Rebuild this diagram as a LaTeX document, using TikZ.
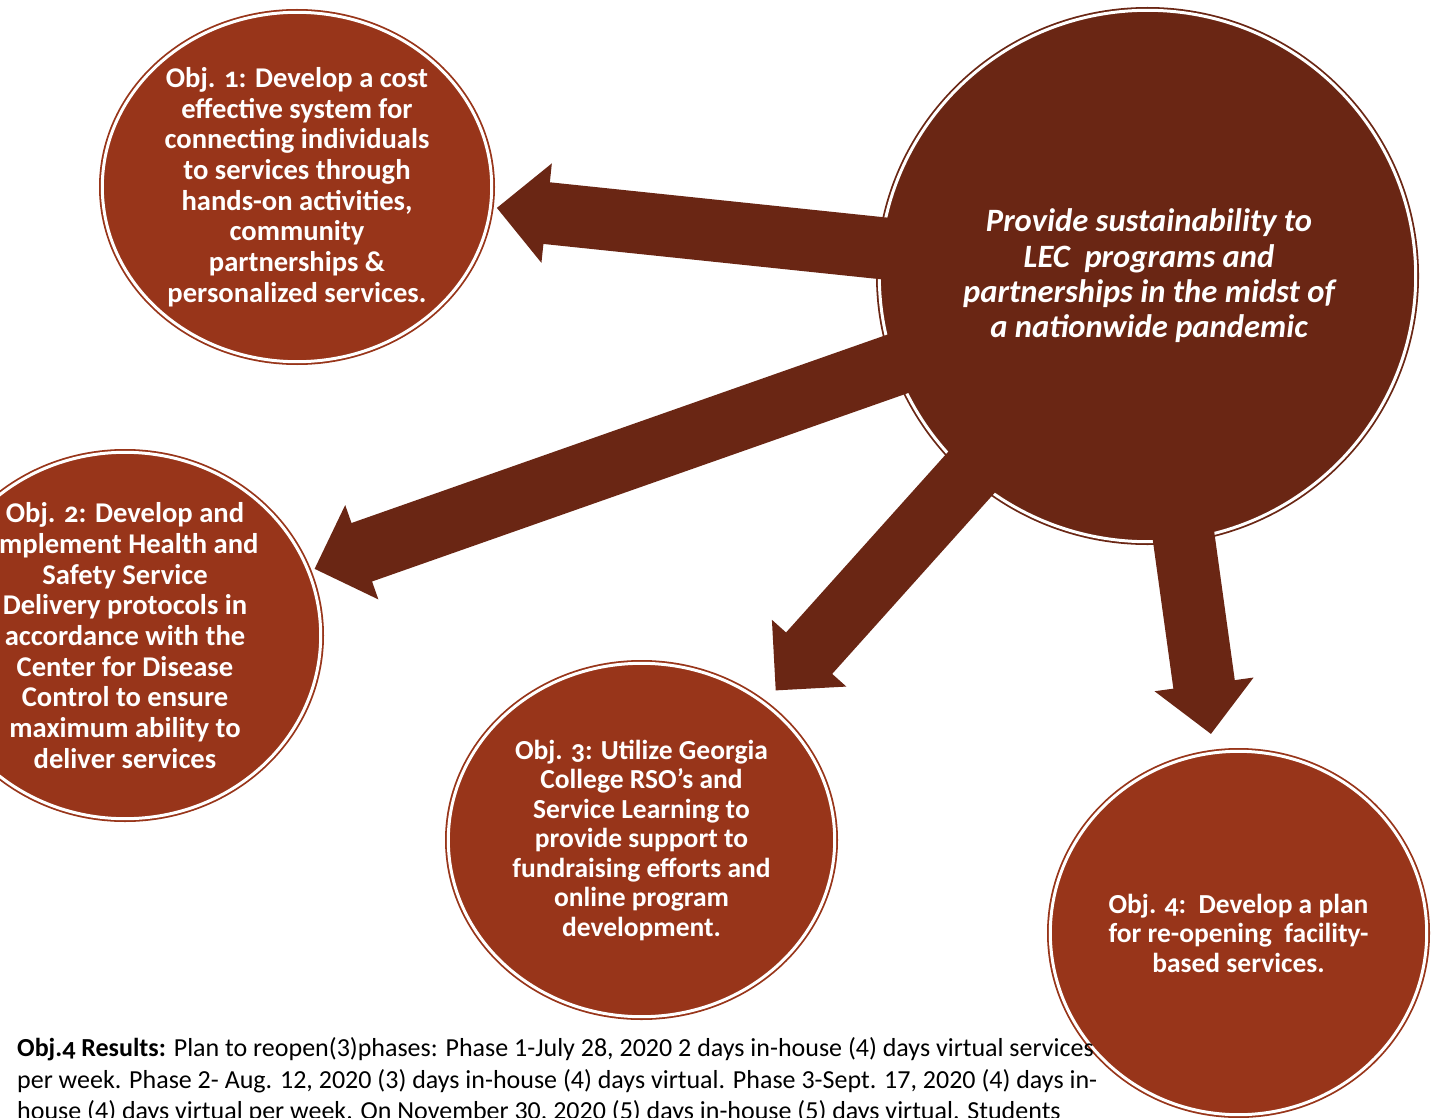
\documentclass[tikz,border=0pt]{standalone}
\usepackage{fontspec}
\setmainfont{Carlito}
\newfontfamily\objfont{Carlito}[Numbers=OldStyle]
\usetikzlibrary{shapes.geometric,calc}
\definecolor{rust}{RGB}{152,53,26}
\definecolor{darkrust}{RGB}{106,38,20}
\begin{document}
\begin{tikzpicture}[x=1pt,y=-1pt,
  ring/.style={ellipse, inner sep=0pt, draw=#1, fill=#1, double=white,
    double distance=3pt, line width=1.8pt},
  objtext/.style={text=white, align=center, inner sep=0pt,
    font=\objfont\bfseries\fontsize{28.6}{30.7}\selectfont},
  smallobjtext/.style={objtext, font=\objfont\bfseries\fontsize{27.5}{29.5}\selectfont},
  maintext/.style={text=white, align=center, inner sep=0pt,
    font=\objfont\bfseries\itshape\fontsize{32.6}{35.3}\selectfont}]
\fill[white] (0,0) rectangle (1431,1118);
\clip (0,0) rectangle (1431,1118);

% objective circles
\node[ring=rust, minimum width=389.4pt, minimum height=349.4pt] (obj1) at (297,187) {};
\node[ring=rust, minimum width=391.4pt, minimum height=366.4pt] (obj2) at (125,635.5) {};
\node[ring=rust, minimum width=386.4pt, minimum height=353.4pt] (obj3) at (641.5,840) {};
\node[ring=rust, minimum width=376.4pt, minimum height=363.4pt] (obj4) at (1238.5,933) {};

% goal circle
\node[ring=darkrust, minimum width=536.4pt, minimum height=531.4pt] (main) at (1147.5,276) {};

% block arrows from the goal towards each objective
\foreach \t in {obj1,obj2,obj3,obj4}{
  \coordinate (\t-tail) at ($(main.center)!230pt!(\t.center)$);
  \coordinate (\t-tip) at ($(\t.center)!201pt!(main.center)$);
  \coordinate (\t-base) at ($(\t-tip)!50pt!(main.center)$);
  \fill[darkrust] ($(\t-tail)!31pt!90:(\t-tip)$) -- ($(\t-base)!31pt!90:(\t-tip)$)
    -- ($(\t-base)!50pt!90:(\t-tip)$) -- (\t-tip)
    -- ($(\t-base)!50pt!-90:(\t-tip)$) -- ($(\t-base)!31pt!-90:(\t-tip)$)
    -- ($(\t-tail)!31pt!-90:(\t-tip)$) -- cycle;
}

% texts
\node[maintext] (mainlab) at (1149,276) {Provide sustainability to\\LEC\ \ programs and\\partnerships in the midst of\\a nationwide pandemic};
\node[objtext] (lab1) at (obj1.center) {Obj. 1: Develop a cost\\effective system for\\connecting individuals\\to services through\\hands-on activities,\\community\\partnerships \&\\personalized services.};
\node[objtext] (lab2) at (obj2.center) {Obj. 2: Develop and\\Implement Health and\\Safety Service\\Delivery protocols in\\accordance with the\\Center for Disease\\Control to ensure\\maximum ability to\\deliver services};
\node[smallobjtext] (lab3) at (obj3.center) {Obj. 3: Utilize Georgia\\College RSO’s and\\Service Learning to\\provide support to\\fundraising efforts and\\online program\\development.};
\node[smallobjtext] (lab4) at (obj4.center) {Obj. 4:\ \ Develop a plan\\for re-opening\ \ facility-\\based services.};

\node[anchor=north west, inner sep=0pt, align=left, font=\fontsize{26}{31.5}\selectfont] (results) at (17,1037.5)
  {{\objfont\bfseries Obj.4 Results:} Plan to reopen(3)phases: Phase 1-July 28, 2020 2 days in-house (4) days virtual services\\
   per week. Phase 2- Aug. 12, 2020 (3) days in-house (4) days virtual. Phase 3-Sept. 17, 2020 (4) days in-\\
   house (4) days virtual per week. On November 30, 2020 (5) days in-house (5) days virtual. Students};
\end{tikzpicture}
\end{document}
